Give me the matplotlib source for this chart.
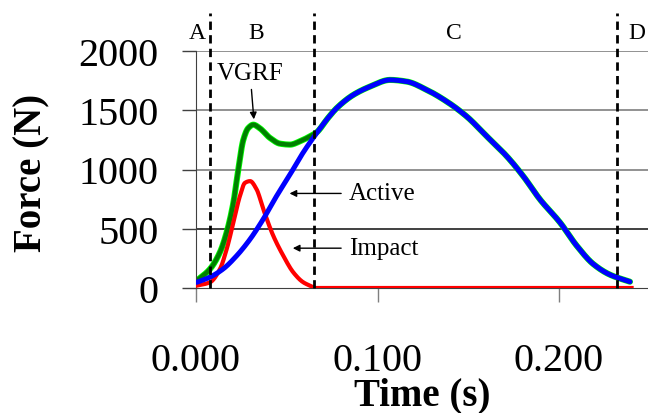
import matplotlib.pyplot as plt
import numpy as np

plt.rcParams["font.family"] = ["Liberation Serif", "DejaVu Serif"]

# Active force (blue)
active_t = [0.0004, 0.0077, 0.0149, 0.0224, 0.0298, 0.037, 0.0444, 0.0518, 0.059,
            0.0665, 0.0728, 0.0775, 0.0867, 0.0959, 0.1069, 0.1161, 0.1271,
            0.1381, 0.1491, 0.1602, 0.1712, 0.1803, 0.1895, 0.2006, 0.2098,
            0.2189, 0.2281, 0.2391]
active_f = [48, 92, 160, 272, 412, 580, 776, 958, 1142,
            1308, 1436, 1518, 1630, 1700, 1756, 1742, 1672,
            1574, 1448, 1280, 1112, 944, 748, 552, 356,
            202, 112, 53]

# Impact force (red)
impact_t = [0.0004, 0.0077, 0.0132, 0.0169, 0.0206, 0.0242, 0.027, 0.0298, 0.0334,
            0.0371, 0.0426, 0.0481, 0.0536, 0.0591, 0.0628, 0.066, 0.24]
impact_f = [20, 48, 160, 328, 552, 776, 888, 902, 832,
            664, 440, 272, 132, 48, 20, 0, 0]

# VGRF (green)
vgrf_t = [0.0004, 0.0077, 0.0132, 0.0169, 0.0206, 0.0233, 0.0261, 0.0288, 0.0316,
          0.035, 0.0408, 0.0463, 0.0518, 0.0573, 0.0628, 0.0665, 0.0728, 0.0775,
          0.0867, 0.0959, 0.1069, 0.1161, 0.1271, 0.1381, 0.1491, 0.1602,
          0.1712, 0.1803, 0.1895, 0.2006, 0.2098, 0.2189, 0.2281, 0.2391]
vgrf_f = [62, 160, 302, 470, 720, 1000, 1252, 1350, 1378,
          1350, 1266, 1218, 1210, 1238, 1280, 1314, 1436, 1518,
          1630, 1700, 1756, 1742, 1672, 1574, 1448, 1280,
          1112, 944, 748, 552, 356, 202, 112, 53]

phase_t = [0.0077, 0.065, 0.232]
phase_labels = ["A", "B", "C", "D"]
phase_label_t = [0.0005, 0.033, 0.142, 0.243]

y_ticks = [0, 500, 1000, 1500, 2000]
x_ticks = [0.0, 0.1, 0.2]


def pchip(t, f, n=600):
    # shape-preserving cubic (Fritsch-Carlson) through the read points
    t = np.asarray(t, float)
    f = np.asarray(f, float)
    h = np.diff(t)
    delta = np.diff(f) / h
    d = np.zeros_like(f)
    for i in range(1, len(f) - 1):
        if delta[i - 1] * delta[i] > 0:
            w1 = 2 * h[i] + h[i - 1]
            w2 = h[i] + 2 * h[i - 1]
            d[i] = (w1 + w2) / (w1 / delta[i - 1] + w2 / delta[i])
    d[0] = delta[0]
    d[-1] = delta[-1]
    tt = np.linspace(t[0], t[-1], n)
    idx = np.clip(np.searchsorted(t, tt, side="right") - 1, 0, len(t) - 2)
    hh = h[idx]
    s = (tt - t[idx]) / hh
    out = ((2 * s**3 - 3 * s**2 + 1) * f[idx] + (s**3 - 2 * s**2 + s) * hh * d[idx]
           + (-2 * s**3 + 3 * s**2) * f[idx + 1] + (s**3 - s**2) * hh * d[idx + 1])
    return tt, out


fig = plt.figure(figsize=(6.48, 4.14), dpi=100)
ax = fig.add_axes([196 / 648, 1 - 289 / 414, 452 / 648, 237 / 414])

ax.set_xlim(0, 452 / 1815)
ax.set_ylim(0, 2000)

for y in y_ticks[1:]:
    ax.axhline(y, color="#7f7f7f" if y != 500 else "#202020", lw=1.2, zorder=1)

gt, gf = pchip(vgrf_t, vgrf_f)
ax.plot(gt, gf, color="#00ff00", lw=4.4, zorder=2, solid_capstyle="round")
ax.plot(gt, gf, color="#008000", lw=3.2, zorder=2.1, solid_capstyle="round")
rt, rf = pchip(impact_t, impact_f)
ax.plot(rt, rf, color="#ff0000", lw=3.0, zorder=3)
bt, bf = pchip(active_t, active_f)
ax.plot(bt, bf, color="#0000ff", lw=3.6, zorder=4, solid_capstyle="round")

# phase boundaries, drawn past the top of the axes
for t in phase_t:
    ax.plot([t, t], [0, 2320], color="black", lw=2.0, dashes=(3.0, 1.9),
            clip_on=False, zorder=5)
for lab, t in zip(phase_labels, phase_label_t):
    ax.text(t, 2160, lab, ha="center", va="center", fontsize=17)

arrow = dict(arrowstyle="-|>", color="black", lw=1.0, mutation_scale=10)
ax.annotate("VGRF", xy=(0.032, 1400), xytext=(0.0298, 1815), fontsize=18,
            ha="center", va="center", arrowprops=arrow)
ax.annotate("", xy=(0.050, 798), xytext=(0.0815, 798), arrowprops=arrow)
ax.text(0.0843, 798, "Active", fontsize=18, ha="left", va="center")
ax.annotate("", xy=(0.0518, 336), xytext=(0.0815, 336), arrowprops=arrow)
ax.text(0.0843, 336, "Impact", fontsize=18, ha="left", va="center")

for s in ["top", "right"]:
    ax.spines[s].set_visible(False)
ax.spines["left"].set_color("#404040")
ax.spines["bottom"].set_color("#404040")

ax.set_yticks(y_ticks)
ax.set_xticks(x_ticks)
ax.set_xticklabels(["%.3f" % v for v in x_ticks])
ax.tick_params(axis="y", direction="out", length=10, width=1, color="#404040",
               labelsize=29, pad=17)
ax.tick_params(axis="x", direction="out", length=10, width=1, color="#7f7f7f",
               labelsize=29, pad=29)

fig.text(32 / 648, 1 - 173 / 414, "Force (N)", rotation=90, fontsize=28,
         fontweight="bold", ha="center", va="center")
fig.text(422 / 648, 1 - 405 / 414, "Time (s)", fontsize=28,
         fontweight="bold", ha="center", va="baseline")

fig.savefig("out.png", dpi=100)
